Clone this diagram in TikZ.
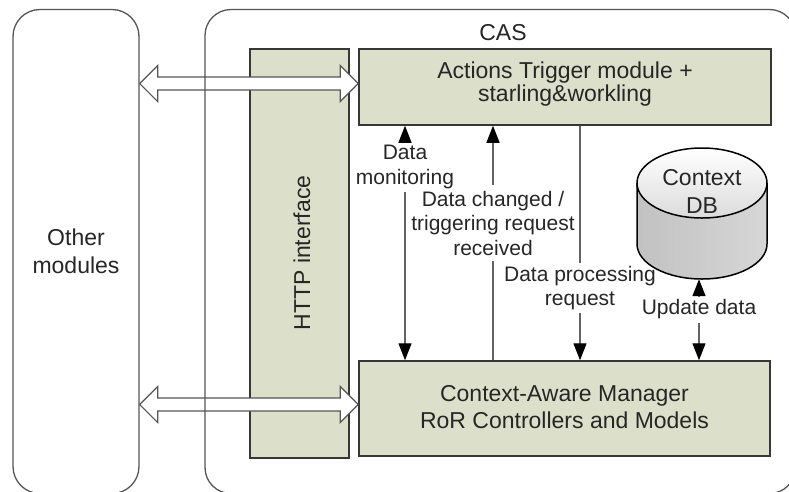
\documentclass[tikz,border=0pt]{standalone}
\usepackage{fontspec}
\setmainfont{Liberation Sans}
\usetikzlibrary{arrows.meta,calc}
\definecolor{boxgreen}{RGB}{220,224,202}
\definecolor{boxedge}{RGB}{55,55,55}
\definecolor{framegray}{RGB}{85,85,85}
\definecolor{ink}{RGB}{38,38,38}
\definecolor{wire}{RGB}{100,100,100}

\begin{document}
\begin{tikzpicture}[x=1pt,y=-1pt,
  outerbox/.style={draw=framegray, line width=1.3pt, rounded corners=27pt, inner sep=0pt},
  module/.style={draw=boxedge, fill=boxgreen, line width=1.5pt, inner sep=0pt},
  boxtext/.style={text=ink, font=\fontsize{23}{23}\selectfont, align=center, inner sep=0pt},
  caption/.style={text=ink, font=\fontsize{21}{24.5}\selectfont, align=center, inner xsep=1pt},
  flow/.style={draw=wire, line width=1.3pt, -{Triangle[length=17pt,width=13pt,black]}},
  link/.style={draw=wire, line width=1.3pt},
  bigarrow/.style={draw=framegray, fill=white, line width=1.2pt, line join=miter},
]
\useasboundingbox (0,0) rectangle (789,491);

% external modules
\node[outerbox, minimum width=126pt, minimum height=484pt,
      text=ink, font=\fontsize{23}{28}\selectfont, align=center]
      (oth) at (76,251.5) {Other\\modules};

% HTTP interface column
\node[module, minimum width=99pt, minimum height=409pt] (http) at (299.5,253.5) {};
\node[boxtext, rotate=90] (httptext) at (302,253) {HTTP interface};

% trigger module and manager
\node[module, minimum width=412pt, minimum height=76pt] (act) at (565,87) {};
\node[boxtext] (acttext) at (565,84) {Actions Trigger module +\\starling\&workling};
\node[module, minimum width=411pt, minimum height=95pt] (cam) at (564.5,408.5) {};
\node[boxtext, font=\fontsize{23}{27.5}\selectfont] (camtext) at (564.5,407)
      {Context-Aware Manager\\RoR Controllers and Models};

% context database cylinder
\node[minimum width=130pt, minimum height=131pt, inner sep=0pt] (db) at (702,213.5) {};
\shade[left color=black!24, middle color=black!6, right color=black!16]
  (637,183) -- (637,244) arc[start angle=180, end angle=360, x radius=65pt, y radius=35pt]
  -- (767,183) -- cycle;
\shade[top color=white, bottom color=black!14] (702,183) ellipse[x radius=65pt, y radius=35pt];
\draw[black, line width=1.5pt]
  (637,183) -- (637,244) arc[start angle=180, end angle=360, x radius=65pt, y radius=35pt]
  -- (767,183);
\draw[black, line width=1.5pt] (702,183) ellipse[x radius=65pt, y radius=35pt];
\node[boxtext, font=\fontsize{23}{28}\selectfont] (dbtext) at (702,191) {Context\\DB};

% labelled flows between trigger module and manager
\node[caption, inner ysep=3pt] (dm) at (405,167) {Data\\monitoring};
\draw[flow] (dm.north) -- (dm.north |- act.south);
\draw[flow] (dm.south) -- (dm.south |- cam.north);

\node[caption, inner ysep=6pt] (dc) at (493,223) {Data changed /\\triggering request\\received};
\draw[flow] (dc.north) -- (dc.north |- act.south);
\draw[link] (dc.south) -- (dc.south |- cam.north);

\node[caption, inner ysep=3pt] (dp) at (580,288) {Data processing\\request};
\draw[link] (act.south -| dp.north) -- (dp.north);
\draw[flow] (dp.south) -- (dp.south |- cam.north);

\node[caption, inner ysep=3.6pt] (ud) at (699,309.5) {Update data};
\draw[flow] (ud.north) -- (ud.north |- db.south);
\draw[flow] (ud.south) -- (ud.south |- cam.north);

% wide two-way arrows through the HTTP interface
\coordinate (upper) at (0,83.5);
\coordinate (lower) at (0,404.5);
\draw[bigarrow] let \p1=(oth.east |- upper), \p2=(act.west |- upper) in
  (\x1,\y1) -- (\x1+18pt,\y1+18pt) -- (\x1+18pt,\y1+6.5pt) -- (\x2-18pt,\y1+6.5pt)
  -- (\x2-18pt,\y1+18pt) -- (\x2,\y2) -- (\x2-18pt,\y1-18pt) -- (\x2-18pt,\y1-6.5pt)
  -- (\x1+18pt,\y1-6.5pt) -- (\x1+18pt,\y1-18pt) -- cycle;
\draw[bigarrow] let \p1=(oth.east |- lower), \p2=(cam.west |- lower) in
  (\x1,\y1) -- (\x1+18pt,\y1+18pt) -- (\x1+18pt,\y1+6.5pt) -- (\x2-18pt,\y1+6.5pt)
  -- (\x2-18pt,\y1+18pt) -- (\x2,\y2) -- (\x2-18pt,\y1-18pt) -- (\x2-18pt,\y1-6.5pt)
  -- (\x1+18pt,\y1-6.5pt) -- (\x1+18pt,\y1-18pt) -- cycle;

% CAS container outline and title
\node[outerbox, rounded corners=26pt, minimum width=590.5pt, minimum height=484pt]
      (cas) at (500.25,251.5) {};
\node[boxtext] (castitle) at (503,33) {CAS};
\end{tikzpicture}
\end{document}
